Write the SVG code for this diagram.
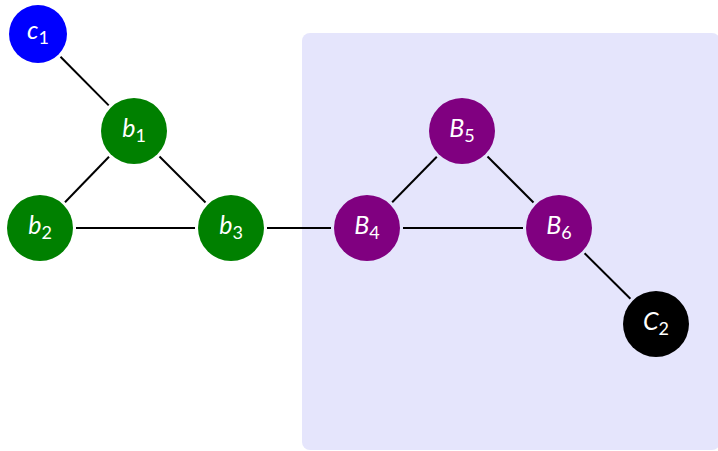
<svg xmlns="http://www.w3.org/2000/svg" width="718" height="451" viewBox="0 0 718 451">
<style>
.e{stroke:#000;stroke-width:2;fill:none}
.t{font-family:Lato,"Open Sans","DejaVu Sans",sans-serif;font-style:italic;font-size:25px;fill:#fff;text-anchor:middle}
.s{font-size:18px;font-style:normal}
.g{fill:#008000}.p{fill:#800080}
</style>
<rect x="302" y="33" width="418" height="417" rx="8" fill="#e5e5fc"/>
<g id="edges">
<line class="e" x1="60.5" y1="56.8" x2="108.7" y2="105.4"/>
<line class="e" x1="109" y1="156.8" x2="65" y2="202.2"/>
<line class="e" x1="159.5" y1="156.5" x2="205.5" y2="202.5"/>
<line class="e" x1="76" y1="228" x2="195" y2="228"/>
<line class="e" x1="267" y1="228" x2="331" y2="228"/>
<line class="e" x1="392.2" y1="202.3" x2="436.8" y2="156.7"/>
<line class="e" x1="403" y1="228" x2="523" y2="228"/>
<line class="e" x1="487.5" y1="156.5" x2="533.5" y2="202.5"/>
<line class="e" x1="584.6" y1="253.3" x2="630.4" y2="298.7"/>
</g>
<g id="c1"><circle cx="38" cy="34" r="29" fill="#0000ff"/><text class="t" x="38" y="39">c<tspan class="s" dy="5">1</tspan></text></g>
<g id="b1"><circle class="g" cx="134" cy="131" r="33"/><text class="t" x="134" y="137">b<tspan class="s" dy="5">1</tspan></text></g>
<g id="b2"><circle class="g" cx="40" cy="228" r="33"/><text class="t" x="40" y="234">b<tspan class="s" dy="5">2</tspan></text></g>
<g id="b3"><circle class="g" cx="231" cy="228" r="33"/><text class="t" x="231" y="234">b<tspan class="s" dy="5">3</tspan></text></g>
<g id="B4"><circle class="p" cx="367" cy="228" r="33"/><text class="t" x="367" y="234">B<tspan class="s" dy="5">4</tspan></text></g>
<g id="B5"><circle class="p" cx="462" cy="131" r="33"/><text class="t" x="462" y="137">B<tspan class="s" dy="5">5</tspan></text></g>
<g id="B6"><circle class="p" cx="559" cy="228" r="33"/><text class="t" x="559" y="234">B<tspan class="s" dy="5">6</tspan></text></g>
<g id="C2"><circle cx="656" cy="324" r="33" fill="#000"/><text class="t" x="656" y="330">C<tspan class="s" dy="5">2</tspan></text></g>
</svg>
